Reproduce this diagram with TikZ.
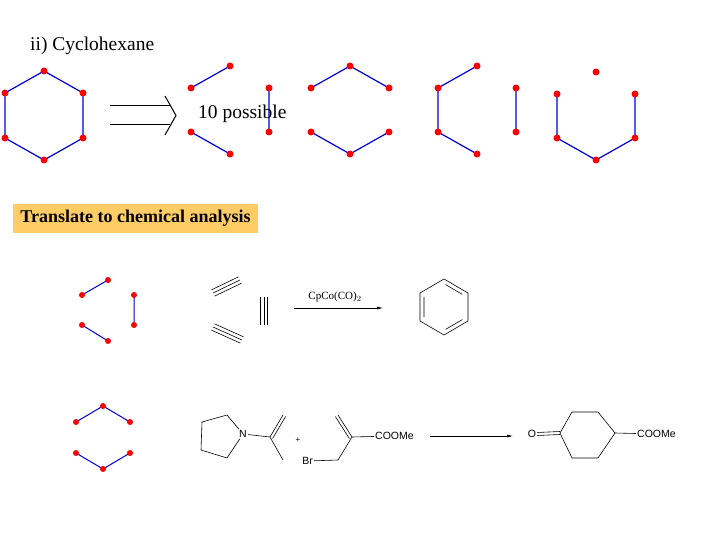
\documentclass[tikz,border=0pt]{standalone}
\usepackage{fontspec}
\setmainfont{Liberation Serif}
\newfontfamily\arial{Liberation Sans}
\usetikzlibrary{arrows.meta}
\begin{document}
\begin{tikzpicture}[x=1pt,y=-1pt,
  bnd/.style={blue!85!black,line width=1.2pt},
  at0/.style={circle,fill=red,inner sep=0pt,minimum size=7pt},
  sat/.style={circle,fill=red,inner sep=0pt,minimum size=6pt},
  chem/.style={black,line width=0.6pt},
  lbl/.style={font=\arial\fontsize{10.5}{12}\selectfont,inner sep=1pt}]
\useasboundingbox[fill=white] (0,0) rectangle (720,540);
\node[anchor=west,inner sep=0pt,font=\fontsize{19.5}{22}\selectfont] (title) at (30,46) {ii) Cyclohexane};
% full hexagon
\foreach \n/\x/\y in {h1/44/71,h2/83/93,h3/83/138,h4/44/160,h5/5/138,h6/5/93} \coordinate (\n) at (\x,\y);
\draw[bnd] (h1)--(h2)--(h3)--(h4)--(h5)--(h6)--cycle;
\foreach \n in {h1,h2,h3,h4,h5,h6} \node[at0] at (\n) {};
% implication arrow
\coordinate (ia) at (110,106); \coordinate (ib) at (170,106);
\coordinate (ic) at (110,125); \coordinate (id) at (170,125);
\coordinate (it) at (176,115.5);
\coordinate (iu) at (165,96); \coordinate (iv) at (165,135);
\draw[line width=1pt] (ia)--(ib) (ic)--(id);
\draw[line width=1pt] (iu) -- (it) -- (iv);
% fragment 1
\foreach \n/\x/\y in {a1/191/88,a2/230/66,a3/269/88,a4/269/132,a5/191/132,a6/230/154} \coordinate (\n) at (\x,\y);
\draw[bnd] (a1)--(a2) (a3)--(a4) (a5)--(a6);
\foreach \n in {a1,a2,a3,a4,a5,a6} \node[at0] at (\n) {};
\node[anchor=west,inner sep=0pt,font=\fontsize{19.5}{22}\selectfont] (poss) at (198,114) {10 possible};
% fragment 2
\foreach \n/\x/\y in {b1/311/88,b2/350/66,b3/389/88,b4/389/132,b5/350/154,b6/311/132} \coordinate (\n) at (\x,\y);
\draw[bnd] (b1)--(b2)--(b3) (b4)--(b5)--(b6);
\foreach \n in {b1,b2,b3,b4,b5,b6} \node[at0] at (\n) {};
% fragment 3
\foreach \n/\x/\y in {c1/438/88,c2/477/66,c3/516/88,c4/516/132,c5/477/154,c6/438/132} \coordinate (\n) at (\x,\y);
\draw[bnd] (c2)--(c1)--(c6)--(c5) (c3)--(c4);
\foreach \n in {c1,c2,c3,c4,c5,c6} \node[at0] at (\n) {};
% fragment 4
\foreach \n/\x/\y in {d1/596/72,d2/635/94,d3/635/138,d4/596/160,d5/557/138,d6/557/94} \coordinate (\n) at (\x,\y);
\draw[bnd] (d2)--(d3)--(d4)--(d5)--(d6);
\foreach \n in {d1,d2,d3,d4,d5,d6} \node[at0] at (\n) {};
% label box
\node[fill={rgb,255:red,255;green,204;blue,102},font=\bfseries\fontsize{18}{20}\selectfont,minimum width=245pt,minimum height=29pt,inner sep=2pt] (tr) at (135.5,218.5) {Translate to chemical analysis};
% small fragment A
\foreach \n/\x/\y in {e1/82/295,e2/108/280,e3/134/295,e4/134/325,e5/82/325,e6/108/341} \coordinate (\n) at (\x,\y);
\draw[bnd,line width=1pt] (e1)--(e2) (e3)--(e4) (e5)--(e6);
\foreach \n in {e1,e2,e3,e4,e5,e6} \node[sat] at (\n) {};
% small fragment B
\foreach \n/\x/\y in {f1/76/422,f2/103/406,f3/130/422,f4/130/453,f5/103/469,f6/76/453} \coordinate (\n) at (\x,\y);
\draw[bnd,line width=1pt] (f1)--(f2)--(f3) (f4)--(f5)--(f6);
\foreach \n in {f1,f2,f3,f4,f5,f6} \node[sat] at (\n) {};
% alkynes
\coordinate (y1a) at (213,293); \coordinate (y1b) at (240,280);
\coordinate (y2a) at (213,327); \coordinate (y2b) at (242,340);
\coordinate (y3a) at (264,297); \coordinate (y3b) at (264,325);
\foreach \o in {-3.5,0,3.5} {
 \draw[chem] ([shift={(0.45*\o,0.9*\o)}]y1a) -- ([shift={(0.45*\o,0.9*\o)}]y1b);
 \draw[chem] ([shift={(-0.45*\o,0.9*\o)}]y2a) -- ([shift={(-0.45*\o,0.9*\o)}]y2b);
 \draw[chem] ([shift={(\o,0)}]y3a) -- ([shift={(\o,0)}]y3b);
}
\coordinate (r1a) at (294,308); \coordinate (r1b) at (383,308);
\draw[chem,-{Latex[length=6pt,width=3pt]}] (r1a) -- (r1b);
\node[font=\fontsize{11}{12}\selectfont] (cat) at (335,297) {CpCo(CO)$_2$};
% benzene
\foreach \n/\x/\y in {z1/444/279,z2/468/293,z3/468/321,z4/444/335,z5/420/321,z6/420/293} \coordinate (\n) at (\x,\y);
\draw[chem] (z1)--(z2)--(z3)--(z4)--(z5)--(z6)--cycle;
\coordinate (q1) at (424,297); \coordinate (q2) at (424,317);
\coordinate (q3) at (445.6,284.6); \coordinate (q4) at (462.4,294.4);
\coordinate (q5) at (462.4,319.6); \coordinate (q6) at (445.6,329.4);
\draw[chem] (q1)--(q2) (q3)--(q4) (q5)--(q6);
% enamine
\foreach \n/\x/\y in {p2/227/415,p3/202/422,p4/201/450,p5/227/458,pc/270/437,pm/283/415,pe/283/460} \coordinate (\n) at (\x,\y);
\node[lbl] (N) at (243,434) {N};
\draw[chem] (N) -- (p2) -- (p3) -- (p4) -- (p5) -- (N);
\draw[chem] (N) -- (pc) -- (pm) (pc) -- (pe);
\draw[chem] ([shift={(2.6,1.5)}]pc) -- ([shift={(2.6,1.5)}]pm);
\node[font=\arial\fontsize{8}{9}\selectfont] (plus) at (298,440) {+};
% bromide
\foreach \n/\x/\y in {sc/352/437,sm/338/415,sb/338/460} \coordinate (\n) at (\x,\y);
\node[lbl,anchor=west] (coo1) at (374,436) {COOMe};
\node[lbl,anchor=east] (Br) at (314,461) {Br};
\draw[chem] (coo1) -- (sc) -- (sm) (sc) -- (sb) -- (Br);
\draw[chem] ([shift={(-2.6,1.6)}]sc) -- ([shift={(-2.6,1.6)}]sm);
% arrow 2
\coordinate (r2a) at (430,436); \coordinate (r2b) at (513,436);
\draw[chem,-{Latex[length=6pt,width=3pt]}] (r2a) -- (r2b);
% cyclohexanone
\foreach \n/\x/\y in {k1/560/433,k2/572/412,k3/598/412,k4/615/433,k5/598/458,k6/572/458} \coordinate (\n) at (\x,\y);
\draw[chem] (k1)--(k2)--(k3)--(k4)--(k5)--(k6)--cycle;
\node[lbl] (O) at (532,434) {O};
\draw[chem] ([yshift=-1.5pt]O.east) -- ([yshift=-1.5pt]k1) ([yshift=1.5pt]O.east) -- ([yshift=1.5pt]k1);
\node[lbl,anchor=west] (coo2) at (636,434) {COOMe};
\draw[chem] (k4) -- (coo2);
\end{tikzpicture}
\end{document}
